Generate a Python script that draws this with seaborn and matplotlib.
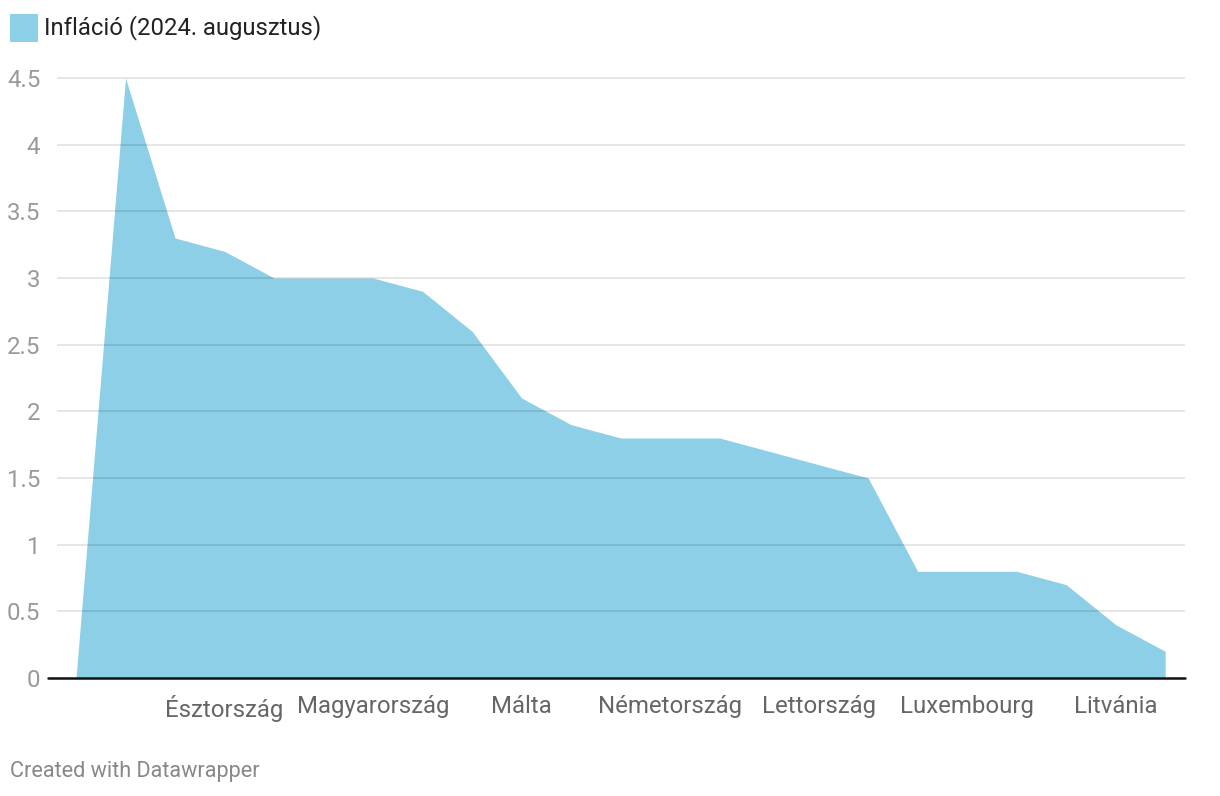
import numpy as np
import pandas as pd
import matplotlib
matplotlib.use('Agg')
import matplotlib.pyplot as plt
import seaborn as sns

# ── Data ─────────────────────────────────────────────────────────────────────
countries = [
    'Írország', 'Belgium', 'Horvátország', 'Észtország', 'Spanyolország',
    'Ausztria', 'Magyarország', 'Szlovákia', 'Hollandia', 'Málta',
    'Portugália', 'Görögország', 'Németország', 'Franciaország', 'Olaszország',
    'Lettország', 'Szlovénia', 'Ciprus', 'Luxembourg', 'Finnország',
    'Csehország', 'Litvánia', 'Svédország'
]
inflation = [0, 4.5, 3.3, 3.2, 3.0, 3.0, 3.0, 2.9, 2.6, 2.1, 1.9, 1.8,
             1.8, 1.8, 1.7, 1.6, 1.5, 0.8, 0.8, 0.8, 0.7, 0.4, 0.2]
shown_labels = ['Észtország', 'Magyarország', 'Málta', 'Németország',
                'Lettország', 'Luxembourg', 'Litvánia']
y_ticks = [0, 0.5, 1, 1.5, 2, 2.5, 3, 3.5, 4, 4.5]
legend_label = 'Infláció (2024. augusztus)'

df = pd.DataFrame({'country': countries, 'value': inflation})
df['pos'] = np.arange(len(df))

AREA = '#8ccfe6'

sns.set_theme(style='white')
plt.rcParams['font.family'] = ['Roboto', 'DejaVu Sans']

fig = plt.figure(figsize=(12.2, 7.96), dpi=100)
ax = fig.add_axes([57 / 1220, 1 - 678 / 796, (1185 - 57) / 1220, 600 / 796 * 5.0 / 4.5])

sns.lineplot(data=df, x='pos', y='value', ax=ax, color=AREA, lw=0, zorder=1)
ax.fill_between(df['pos'], df['value'], 0, color=AREA, lw=0, zorder=1)

# grid lines drawn over the area, semi-transparent
for t in y_ticks[1:]:
    ax.axhline(t, color='black', alpha=0.11, lw=1.3, zorder=2)

ax.set_xlim(-0.384, 22.4)
ax.set_ylim(0, 5.0)
ax.set_xlabel('')
ax.set_ylabel('')

tick_pos = [countries.index(c) for c in shown_labels]
ax.set_xticks(tick_pos)
ax.set_xticklabels(shown_labels, fontsize=17.3, color='#666666')
ax.set_yticks(y_ticks)
ax.set_yticklabels([f'{t:g}' for t in y_ticks], fontsize=17.3, color='#9a9a9a')
ax.tick_params(axis='both', length=0)
ax.tick_params(axis='x', pad=12)
ax.tick_params(axis='y', pad=12)

for s in ['top', 'right', 'left', 'bottom']:
    ax.spines[s].set_visible(False)
ax.plot([-0.57, 22.4], [0, 0], color='#111111', lw=1.8, clip_on=False, zorder=3)

# legend
fig.patches.append(plt.Rectangle((10 / 1220, 1 - 42 / 796), 28 / 1220, 28 / 796,
                                 transform=fig.transFigure, color=AREA, lw=0))
fig.text(44 / 1220, 1 - 28 / 796, legend_label, fontsize=17.2, color='#222222',
         va='center', ha='left')

fig.text(10 / 1220, 1 - 771 / 796, 'Created with Datawrapper', fontsize=15.6,
         color='#888888', va='center', ha='left')

fig.savefig('out.png', dpi=100)
